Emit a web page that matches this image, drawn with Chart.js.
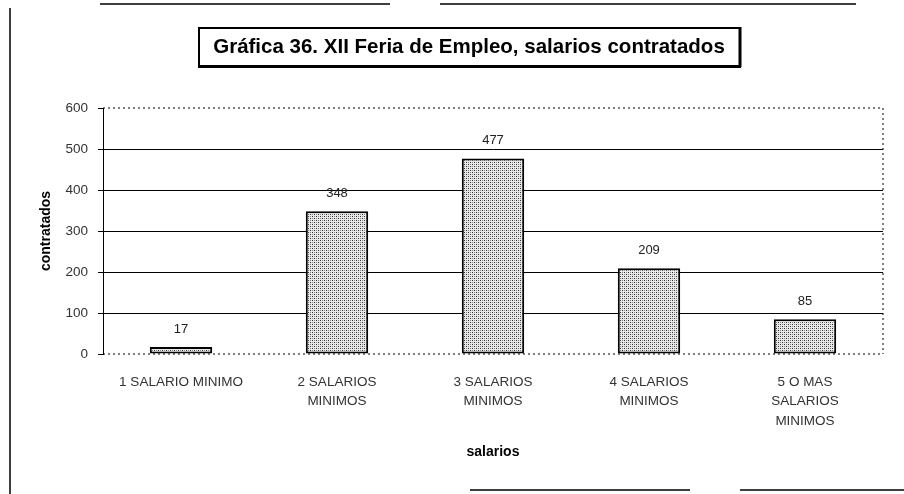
<!DOCTYPE html>
<html>
<head>
<meta charset="utf-8">
<script src="https://cdn.jsdelivr.net/npm/chart.js@4/dist/chart.umd.min.js"></script>
<style>
  html, body { margin: 0; padding: 0; background: #fff; }
  #wrap { width: 904px; height: 494px; position: relative; }
</style>
</head>
<body>
<div id="wrap"><canvas id="chSalarios"></canvas></div>
<script>
var categorias = [
  '1 SALARIO MINIMO',
  ['2 SALARIOS', 'MINIMOS'],
  ['3 SALARIOS', 'MINIMOS'],
  ['4 SALARIOS', 'MINIMOS'],
  ['5 O MAS', 'SALARIOS', 'MINIMOS']
];
var contratados = [17, 348, 477, 209, 85];
var yTicks = [0, 100, 200, 300, 400, 500, 600];
var titulo = 'Gráfica 36. XII Feria de Empleo, salarios contratados';

var fuente = '"Liberation Sans", Arial, sans-serif';

// stippled fill for the bars
function makeStipple() {
  var c = document.createElement('canvas');
  c.width = 4; c.height = 4;
  var g = c.getContext('2d');
  g.fillStyle = '#e8e8e8';
  g.fillRect(0, 0, 4, 4);
  g.fillStyle = '#333';
  g.fillRect(0, 0, 1, 1);
  g.fillRect(2, 2, 1, 1);
  g.fillStyle = '#888';
  g.fillRect(2, 0, 1, 1);
  g.fillRect(0, 2, 1, 1);
  return g.createPattern(c, 'repeat');
}

// frame, title box, dotted plot edges and value labels
var decor = {
  id: 'decor',
  beforeDraw: function (chart) {
    var ctx = chart.ctx;
    ctx.save();
    ctx.strokeStyle = '#000';
    ctx.lineWidth = 1.5;
    ctx.beginPath();
    ctx.moveTo(10, 8); ctx.lineTo(10, 494);
    ctx.moveTo(100, 4); ctx.lineTo(390, 4);
    ctx.moveTo(440, 4); ctx.lineTo(856, 4);
    ctx.moveTo(470, 490); ctx.lineTo(690, 490);
    ctx.moveTo(740, 490); ctx.lineTo(904, 490);
    ctx.stroke();
    ctx.restore();
  },
  afterDraw: function (chart) {
    var ctx = chart.ctx;
    var a = chart.chartArea;
    var y = chart.scales.y;
    ctx.save();
    // dotted top, bottom and right edges of the plot area
    ctx.strokeStyle = '#000';
    ctx.lineWidth = 1;
    ctx.setLineDash([2, 3]);
    ctx.beginPath();
    ctx.moveTo(a.left, y.getPixelForValue(600)); ctx.lineTo(a.right, y.getPixelForValue(600));
    ctx.moveTo(a.left, y.getPixelForValue(0)); ctx.lineTo(a.right, y.getPixelForValue(0));
    ctx.moveTo(a.right, y.getPixelForValue(600)); ctx.lineTo(a.right, y.getPixelForValue(0));
    ctx.stroke();
    ctx.setLineDash([]);

    // title box
    ctx.fillStyle = '#fff';
    ctx.fillRect(198, 27, 543, 40);
    ctx.lineWidth = 2;
    ctx.strokeRect(199, 28, 541, 38);
    ctx.lineWidth = 3;
    ctx.beginPath();
    ctx.moveTo(198, 66.5); ctx.lineTo(741, 66.5);
    ctx.moveTo(740, 27); ctx.lineTo(740, 67);
    ctx.stroke();
    ctx.fillStyle = '#000';
    ctx.font = 'bold 20.5px ' + fuente;
    ctx.textAlign = 'center';
    ctx.textBaseline = 'middle';
    ctx.fillText(titulo, 469, 47);

    // values over the bars
    ctx.font = '13px ' + fuente;
    ctx.fillStyle = '#222';
    var meta = chart.getDatasetMeta(0);
    meta.data.forEach(function (bar, i) {
      ctx.fillText(String(contratados[i]), bar.x, bar.y - 18);
    });
    ctx.restore();
  }
};

var ctx = document.getElementById('chSalarios');
new Chart(ctx, {
  type: 'bar',
  data: {
    labels: categorias,
    datasets: [{
      data: contratados,
      backgroundColor: makeStipple(),
      borderColor: '#000',
      borderWidth: 2,
      borderSkipped: false,
      categoryPercentage: 1,
      barPercentage: 0.4
    }]
  },
  options: {
    responsive: true,
    maintainAspectRatio: false,
    animation: false,
    layout: { padding: { left: 10, right: 21, top: 108, bottom: 33 } },
    plugins: {
      legend: { display: false },
      tooltip: { enabled: false }
    },
    scales: {
      x: {
        grid: { display: false },
        border: { display: false },
        ticks: {
          color: '#333',
          font: { family: fuente, size: 13.5, lineHeight: 1.45 },
          maxRotation: 0,
          autoSkip: false,
          padding: 10
        },
        title: {
          display: true,
          text: 'salarios',
          color: '#000',
          font: { family: fuente, size: 14, weight: 'bold' },
          padding: { top: 0, bottom: 0 }
        },
        afterFit: function (s) { s.height = 107; }
      },
      y: {
        min: 0,
        max: 600,
        afterBuildTicks: function (s) {
          s.ticks = yTicks.map(function (v) { return { value: v }; });
        },
        grid: {
          color: function (c) {
            var v = c.tick ? c.tick.value : null;
            return (v === 0 || v === 600) ? 'rgba(0,0,0,0)' : '#000';
          },
          lineWidth: 1,
          tickColor: '#000',
          tickLength: 5
        },
        border: { display: true, color: '#000', width: 1 },
        ticks: {
          color: '#333',
          font: { family: fuente, size: 13.5 },
          padding: 10
        },
        title: {
          display: true,
          text: 'contratados',
          color: '#000',
          font: { family: fuente, size: 14, weight: 'bold' },
          padding: { top: 28, bottom: 0 }
        },
        afterFit: function (s) { s.width = 93; }
      }
    }
  },
  plugins: [decor]
});
</script>
</body>
</html>
